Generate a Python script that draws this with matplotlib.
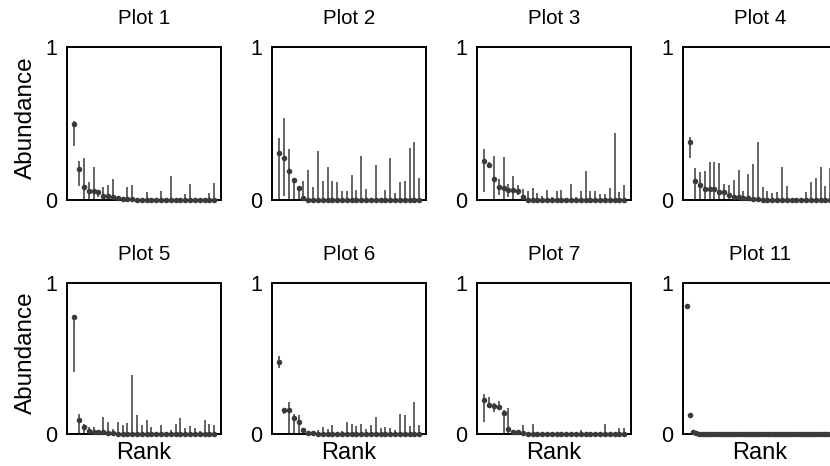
import matplotlib
matplotlib.use("Agg")
import matplotlib.pyplot as plt
import numpy as np

plt.rcParams['font.family'] = ['Liberation Sans', 'DejaVu Sans']

titles = ["Plot 1", "Plot 2", "Plot 3", "Plot 4", "Plot 5", "Plot 6", "Plot 7", "Plot 11"]

# mean abundance by rank, lower and upper interval bounds
p1_mean = [0.50, 0.204, 0.086, 0.06, 0.057, 0.05, 0.026, 0.024, 0.022, 0.015, 0.009, 0.006, 0.005,
           0.0, 0.0, 0.0, 0.0, 0.0, 0.0, 0.0, 0.0, 0.0, 0.0, 0.0, 0.0, 0.0, 0.0, 0.0, 0.0, 0.0]
p1_low = [0.356, 0.092, 0.0, 0.0, 0.0, 0.022, 0.0, 0.0, 0.0, 0.0, 0.0, 0.0, 0.0,
          0.0, 0.0, 0.0, 0.0, 0.0, 0.0, 0.0, 0.0, 0.0, 0.0, 0.0, 0.0, 0.0, 0.0, 0.0, 0.0, 0.0]
p1_up = [0.516, 0.253, 0.275, 0.116, 0.213, 0.062, 0.086, 0.095, 0.134, 0.02, 0.009, 0.086, 0.095,
         0.0, 0.0, 0.05, 0.0, 0.0, 0.06, 0.0, 0.16, 0.0, 0.0, 0.04, 0.103, 0.0, 0.0, 0.0, 0.046, 0.112]

p2_mean = [0.307, 0.276, 0.19, 0.129, 0.077, 0.013, 0.002, 0.0, 0.0, 0.0, 0.0, 0.0, 0.0, 0.0, 0.0,
           0.0, 0.0, 0.0, 0.0, 0.0, 0.0, 0.0, 0.0, 0.0, 0.0, 0.0, 0.0, 0.0, 0.0, 0.0]
p2_low = [0.0, 0.029, 0.0, 0.0, 0.0, 0.0, 0.0, 0.0, 0.0, 0.0, 0.0, 0.0, 0.0, 0.0, 0.0,
          0.0, 0.0, 0.0, 0.0, 0.0, 0.0, 0.0, 0.0, 0.0, 0.0, 0.0, 0.0, 0.0, 0.0, 0.0]
p2_up = [0.404, 0.539, 0.335, 0.135, 0.08, 0.127, 0.193, 0.088, 0.32, 0.123, 0.213, 0.123, 0.116, 0.061, 0.061,
         0.164, 0.068, 0.285, 0.075, 0.015, 0.232, 0.015, 0.066, 0.272, 0.044, 0.118, 0.123, 0.338, 0.377, 0.145]

p3_mean = [0.257, 0.232, 0.14, 0.088, 0.081, 0.066, 0.066, 0.057, 0.02, 0.0, 0.0, 0.0, 0.0, 0.0, 0.0,
           0.0, 0.0, 0.0, 0.0, 0.0, 0.0, 0.0, 0.0, 0.0, 0.0, 0.0, 0.0, 0.0, 0.0, 0.0]
p3_low = [0.055, 0.21, 0.0, 0.035, 0.0, 0.018, 0.0, 0.035, 0.0, 0.0, 0.0, 0.0, 0.0, 0.0, 0.0,
          0.0, 0.0, 0.0, 0.0, 0.0, 0.0, 0.0, 0.0, 0.0, 0.0, 0.0, 0.0, 0.0, 0.0, 0.0]
p3_up = [0.331, 0.246, 0.287, 0.138, 0.281, 0.105, 0.158, 0.096, 0.075, 0.059, 0.079, 0.048, 0.026, 0.066, 0.02,
         0.061, 0.068, 0.011, 0.105, 0.022, 0.057, 0.189, 0.061, 0.061, 0.039, 0.039, 0.079, 0.436, 0.055, 0.096]

p4_mean = [0.382, 0.127, 0.098, 0.074, 0.072, 0.07, 0.055, 0.052, 0.035, 0.022, 0.02, 0.015, 0.013, 0.009, 0.004,
           0.0, 0.0, 0.0, 0.0, 0.0, 0.0, 0.0, 0.0, 0.0, 0.0, 0.0, 0.0, 0.0, 0.0, 0.0]
p4_low = [0.273, 0.0, 0.0, 0.0, 0.0, 0.0, 0.0, 0.0, 0.0, 0.0, 0.0, 0.0, 0.0, 0.0, 0.0,
          0.0, 0.0, 0.0, 0.0, 0.0, 0.0, 0.0, 0.0, 0.0, 0.0, 0.0, 0.0, 0.0, 0.0, 0.0]
p4_up = [0.41, 0.207, 0.181, 0.192, 0.249, 0.249, 0.242, 0.107, 0.096, 0.131, 0.194, 0.062, 0.168, 0.234, 0.38,
         0.084, 0.056, 0.045, 0.051, 0.218, 0.089, 0.0, 0.0, 0.0, 0.055, 0.12, 0.147, 0.213, 0.092, 0.21]

p5_mean = [0.775, 0.09, 0.046, 0.022, 0.015, 0.015, 0.013, 0.009, 0.004, 0.0, 0.0, 0.0, 0.0, 0.0, 0.0,
           0.0, 0.0, 0.0, 0.0, 0.0, 0.0, 0.0, 0.0, 0.0, 0.0, 0.0, 0.0, 0.0, 0.0, 0.0]
p5_low = [0.41, 0.0, 0.0, 0.0, 0.0, 0.0, 0.0, 0.0, 0.0, 0.0, 0.0, 0.0, 0.0, 0.0, 0.0,
          0.0, 0.0, 0.0, 0.0, 0.0, 0.0, 0.0, 0.0, 0.0, 0.0, 0.0, 0.0, 0.0, 0.0, 0.0]
p5_up = [0.79, 0.13, 0.066, 0.049, 0.049, 0.022, 0.115, 0.082, 0.033, 0.079, 0.06, 0.075, 0.393, 0.126, 0.062,
         0.09, 0.049, 0.0, 0.06, 0.015, 0.024, 0.066, 0.108, 0.042, 0.055, 0.04, 0.022, 0.09, 0.066, 0.062]

p6_mean = [0.475, 0.156, 0.156, 0.103, 0.079, 0.024, 0.007, 0.004, 0.0, 0.0, 0.0, 0.0, 0.0, 0.0, 0.0,
           0.0, 0.0, 0.0, 0.0, 0.0, 0.0, 0.0, 0.0, 0.0, 0.0, 0.0, 0.0, 0.0, 0.0, 0.0]
p6_low = [0.435, 0.132, 0.0, 0.0, 0.0, 0.0, 0.0, 0.0, 0.0, 0.0, 0.0, 0.0, 0.0, 0.0, 0.0,
          0.0, 0.0, 0.0, 0.0, 0.0, 0.0, 0.0, 0.0, 0.0, 0.0, 0.0, 0.0, 0.0, 0.0, 0.0]
p6_up = [0.516, 0.169, 0.213, 0.13, 0.127, 0.042, 0.007, 0.004, 0.026, 0.044, 0.031, 0.057, 0.015, 0.022, 0.081,
         0.064, 0.051, 0.064, 0.031, 0.057, 0.11, 0.037, 0.044, 0.037, 0.024, 0.134, 0.125, 0.051, 0.213, 0.057]

p7_mean = [0.226, 0.193, 0.187, 0.18, 0.138, 0.035, 0.015, 0.011, 0.007, 0.0, 0.0, 0.0, 0.0, 0.0, 0.0,
           0.0, 0.0, 0.0, 0.0, 0.0, 0.0, 0.0, 0.0, 0.0, 0.0, 0.0, 0.0, 0.0, 0.0, 0.0]
p7_low = [0.077, 0.182, 0.147, 0.167, 0.0, 0.0, 0.0, 0.0, 0.0, 0.0, 0.0, 0.0, 0.0, 0.0, 0.0,
          0.0, 0.0, 0.0, 0.0, 0.0, 0.0, 0.0, 0.0, 0.0, 0.0, 0.0, 0.0, 0.0, 0.0, 0.0]
p7_up = [0.266, 0.246, 0.204, 0.22, 0.156, 0.169, 0.015, 0.011, 0.057, 0.0, 0.068, 0.0, 0.0, 0.0, 0.0,
         0.0, 0.0, 0.0, 0.0, 0.0, 0.026, 0.0, 0.0, 0.0, 0.0, 0.068, 0.0, 0.0, 0.042, 0.042]

p11_mean = [0.845, 0.123, 0.013, 0.004, 0.003, 0.002, 0.002, 0.001, 0.001, 0.001,
            0.0, 0.0, 0.0, 0.0, 0.0, 0.0, 0.0, 0.0, 0.0, 0.0,
            0.0, 0.0, 0.0, 0.0, 0.0, 0.0, 0.0, 0.0, 0.0, 0.0,
            0.0, 0.0, 0.0, 0.0, 0.0, 0.0, 0.0, 0.0, 0.0, 0.0,
            0.0, 0.0, 0.0, 0.0, 0.0, 0.0, 0.0, 0.0, 0.0, 0.0]
p11_low = p11_mean
p11_up = p11_mean

means = [p1_mean, p2_mean, p3_mean, p4_mean, p5_mean, p6_mean, p7_mean, p11_mean]
lows = [p1_low, p2_low, p3_low, p4_low, p5_low, p6_low, p7_low, p11_low]
ups = [p1_up, p2_up, p3_up, p4_up, p5_up, p6_up, p7_up, p11_up]

W, H = 830, 466
fig = plt.figure(figsize=(W / 100, H / 100), dpi=100)

lefts_px = [67, 272, 477, 683]
width_px = 154
rows_px = [(47, 200), (283, 434)]

point_color = "#3a3a3a"
bar_color = "#505050"

for k in range(8):
    r, c = divmod(k, 4)
    top, bot = rows_px[r]
    hpx = bot - top
    ax = fig.add_axes([lefts_px[c] / W, (H - bot) / H, width_px / W, hpx / H])
    m = np.array(means[k])
    lo = np.array(lows[k])
    hi = np.array(ups[k])
    ranks = np.arange(1, len(m) + 1)
    ax.vlines(ranks, np.minimum(lo, m), np.maximum(hi, m), color=bar_color, lw=1.25, zorder=2, clip_on=False)
    ax.plot(ranks, m, 'o', color=point_color, ms=4.0, mew=0, zorder=3, clip_on=False)
    ax.set_xlim(-0.5, len(m) + 1.4)
    ax.set_ylim(0, 1)
    ax.set_xticks([])
    ax.set_yticks([0, 1])
    ax.set_yticklabels(["0", "1"])
    ax.tick_params(axis='y', length=0, pad=7, labelsize=15.5)
    for s in ax.spines.values():
        s.set_linewidth(1.4)
        s.set_color("black")
    ax.set_title(titles[k], fontsize=14.8, pad=16.5)
    if c == 0:
        ax.set_ylabel("Abundance", fontsize=17.5)
        ax.yaxis.set_label_coords(-0.197, 0.5 + 5.5 / hpx)
    if r == 1:
        ax.set_xlabel("Rank", fontsize=17, labelpad=6)

fig.savefig("out.png", dpi=100)
